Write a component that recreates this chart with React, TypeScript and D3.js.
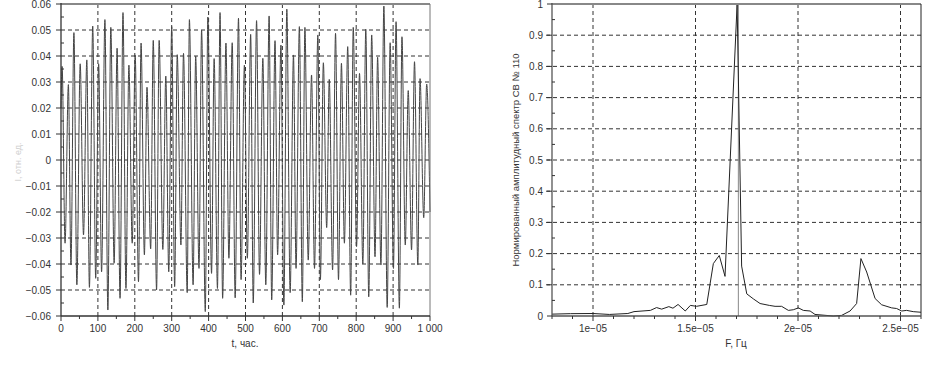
import React from "react";
import * as d3 from "d3";

// left panel: oscillation, peaks and troughs
const peakT = [3, 20, 35, 52, 70, 86, 102, 119, 135, 152, 168, 184, 201, 217, 233, 250, 266, 284, 300, 315,
  332, 348, 365, 381, 398, 415, 431, 447, 464, 481, 497, 514, 530, 547, 564, 580, 596, 612, 630, 646,
  661, 679, 696, 711, 727, 744, 760, 777, 792, 809, 826, 842, 858, 875, 892, 908, 924, 941, 958, 973, 991];
const peakV = [0.036, 0.029, 0.049, 0.037, 0.0385, 0.0515, 0.037, 0.054, 0.051, 0.043,
  0.0567, 0.0365, 0.0404, 0.045, 0.028, 0.046, 0.046, 0.0323, 0.0513, 0.0405,
  0.041, 0.054, 0.04, 0.05, 0.055, 0.039, 0.0567, 0.045, 0.0451, 0.0545,
  0.0365, 0.0483, 0.0536, 0.0391, 0.0554, 0.0459, 0.0442, 0.058, 0.0404, 0.0513,
  0.051, 0.0327, 0.0481, 0.0374, 0.031, 0.0487, 0.0372, 0.0436, 0.051, 0.0333,
  0.0503, 0.0481, 0.0395, 0.0592, 0.0451, 0.0532, 0.0474, 0.0267, 0.0378, 0.0313, 0.0292];
const troughT = [11, 27, 43, 61, 77, 94, 110, 127, 144, 160, 176, 193, 210, 226, 243, 259, 276, 292, 308, 325,
  342, 358, 374, 391, 408, 424, 438, 455, 472, 488, 505, 521, 538, 555, 571, 587, 604, 621, 637, 654,
  670, 687, 703, 720, 736, 752, 768, 785, 801, 818, 834, 851, 867, 884, 901, 917, 933, 950, 967, 983];
const troughV = [-0.032, -0.0404, -0.048, -0.0288, -0.049, -0.0455, -0.043, -0.0577, -0.0397, -0.0532,
  -0.0494, -0.032, -0.0468, -0.0365, -0.0342, -0.05, -0.0344, -0.043, -0.0487, -0.0327,
  -0.051, -0.048, -0.0417, -0.0583, -0.0436, -0.0494, -0.0532, -0.0378, -0.053, -0.046,
  -0.0378, -0.055, -0.044, -0.048, -0.0538, -0.0365, -0.0558, -0.051, -0.0417, -0.0545,
  -0.0385, -0.0417, -0.046, -0.026, -0.0423, -0.046, -0.032, -0.052, -0.0333, -0.04,
  -0.0526, -0.0372, -0.0404, -0.0567, -0.0417, -0.057, -0.0327, -0.0346, -0.0404, -0.0222];
const edgeT = [0, 1000];
const edgeV = [0.02, -0.02];
const timeTicks = [0, 100, 200, 300, 400, 500, 600, 700, 800, 900, 1000];
const timeLabels = ["0", "100", "200", "300", "400", "500", "600", "700", "800", "900", "1 000"];

// right panel: normalized spectrum
const specF = [8.0, 8.9, 10.0, 10.8, 11.7, 12.0, 12.8, 13.1, 13.35, 13.7, 13.9, 14.15, 14.5, 14.75, 15.05,
  15.55, 15.87, 16.16, 16.44, 17.03, 17.25, 17.5, 17.82, 18.15, 18.6, 18.88, 19.2, 19.53, 19.77, 20.02,
  20.26, 20.59, 20.83, 21.72, 22.13, 22.54, 22.86, 23.07, 23.35, 23.76, 24.08, 24.57, 24.81, 25.06,
  25.3, 25.62, 26.0];
const specV = [0.006, 0.0075, 0.008, 0.005, 0.008, 0.014, 0.018, 0.027, 0.022, 0.03, 0.025, 0.037, 0.016, 0.034, 0.031,
  0.037, 0.168, 0.194, 0.127, 1.0, 0.16, 0.071, 0.055, 0.04, 0.034, 0.031, 0.031, 0.018, 0.02, 0.026,
  0.018, 0.016, 0.005, 0.0, 0.002, 0.016, 0.04, 0.184, 0.141, 0.056, 0.036, 0.026, 0.024, 0.016,
  0.018, 0.014, 0.012];
const peakMarkerF = 17.09;
const freqTicks = [10, 15, 20, 25];
const freqLabels = ["1e\u221205", "1.5e\u221205", "2e\u221205", "2.5e\u221205"];

const font = "'Liberation Sans', Arial, sans-serif";
const txt = "#333";
const gridColor = "#333";

const fmtSigned = (v: number) => (v < 0 ? "\u2212" + Math.abs(v).toFixed(2) : v === 0 ? "0" : v.toFixed(2));

export default function App() {
  // left scales
  const xL = d3.scaleLinear().domain([0, 1000]).range([61, 430]);
  const yL = d3.scaleLinear().domain([-0.06, 0.06]).range([316, 4]);
  // right scales
  const xR = d3.scaleLinear().domain([8, 26]).range([552, 921]);
  const yR = d3.scaleLinear().domain([0, 1]).range([316, 4]);

  const pts: [number, number][] = [];
  peakT.forEach((t, i) => pts.push([t, peakV[i]]));
  troughT.forEach((t, i) => pts.push([t, troughV[i]]));
  edgeT.forEach((t, i) => pts.push([t, edgeV[i]]));
  pts.sort((a, b) => a[0] - b[0]);

  const lineL = d3.line<[number, number]>()
    .x((d) => xL(d[0]))
    .y((d) => yL(d[1]))
    .curve(d3.curveMonotoneX);

  const spec = specF.map((f, i) => [f, specV[i]] as [number, number]);
  const lineR = d3.line<[number, number]>()
    .x((d) => xR(d[0]))
    .y((d) => yR(d[1]));

  const yLTicks = d3.range(-6, 7).map((k) => k / 100);
  const yLMinor = d3.range(-11, 12, 2).map((k) => k / 200);
  const xLMinor = d3.range(50, 1000, 100);
  const yRTicks = d3.range(0, 11).map((k) => k / 10);
  const yRMinor = d3.range(1, 20, 2).map((k) => k / 20);
  const xRMinor = d3.range(8, 27).filter((f) => f % 5 !== 0);

  return (
    <svg width={935} height={368} style={{ position: "absolute", left: 0, top: 0, background: "#fff" }}
      fontFamily={font} fontSize={10}>
      {/* ---------- left panel ---------- */}
      <g>
        {timeTicks.slice(1, -1).map((t) => (
          <line key={"gv" + t} x1={xL(t)} x2={xL(t)} y1={4} y2={316} stroke={gridColor} strokeDasharray="4,3" />
        ))}
        {yLTicks.filter((v) => Math.abs(v) < 0.055).map((v) => (
          <line key={"gh" + v} x1={61} x2={430} y1={yL(v)} y2={yL(v)} stroke={gridColor} strokeDasharray="4,3" />
        ))}
        <path d={lineL(pts) || ""} fill="none" stroke="#444" strokeWidth={1} />
        <line x1={61} x2={430} y1={4} y2={4} stroke="#888" strokeWidth={2} />
        <line x1={430} x2={430} y1={4} y2={316} stroke="#777" strokeWidth={1} />
        <line x1={61} x2={61} y1={3} y2={316} stroke="#333" strokeWidth={1.3} />
        <line x1={61} x2={430} y1={316} y2={316} stroke="#333" strokeWidth={1.3} />
        {yLTicks.map((v) => (
          <g key={"yl" + v}>
            <line x1={56} x2={61} y1={yL(v)} y2={yL(v)} stroke="#333" />
            <text x={51} y={yL(v)} dy="0.35em" textAnchor="end" fill={txt}>{fmtSigned(v)}</text>
          </g>
        ))}
        {yLMinor.map((v) => (
          <line key={"ylm" + v} x1={61} x2={64} y1={yL(v)} y2={yL(v)} stroke="#333" />
        ))}
        {timeTicks.map((t, i) => (
          <g key={"xl" + t}>
            <line x1={xL(t)} x2={xL(t)} y1={316} y2={321} stroke="#333" />
            <text x={xL(t)} y={332} textAnchor="middle" fill={txt}>{timeLabels[i]}</text>
          </g>
        ))}
        {xLMinor.map((t) => (
          <line key={"xlm" + t} x1={xL(t)} x2={xL(t)} y1={316} y2={319} stroke="#333" />
        ))}
        <text x={245} y={347} textAnchor="middle" fill={txt}>t, час.</text>
        <text transform="translate(21,162) rotate(-90)" textAnchor="middle" fill="#cfcfcf" fontSize={9}>I, отн. ед.</text>
      </g>

      {/* ---------- right panel ---------- */}
      <g>
        {freqTicks.map((f) => (
          <line key={"rgv" + f} x1={xR(f)} x2={xR(f)} y1={4} y2={316} stroke={gridColor} strokeDasharray="4,3" />
        ))}
        {yRTicks.slice(1, -1).map((v) => (
          <line key={"rgh" + v} x1={546} x2={921} y1={yR(v)} y2={yR(v)} stroke={gridColor} strokeDasharray="4,3" />
        ))}
        <line x1={xR(peakMarkerF)} x2={xR(peakMarkerF)} y1={4} y2={316} stroke="#888" strokeWidth={1} />
        <path d={lineR(spec) || ""} fill="none" stroke="#222" strokeWidth={1} />
        <line x1={552} x2={921} y1={4} y2={4} stroke="#888" strokeWidth={2} />
        <line x1={921} x2={921} y1={4} y2={316} stroke="#222" strokeWidth={1} />
        <line x1={552} x2={552} y1={3} y2={316} stroke="#555" strokeWidth={1.3} />
        <line x1={552} x2={921} y1={316} y2={316} stroke="#555" strokeWidth={1.3} />
        {yRTicks.map((v) => (
          <g key={"yr" + v}>
            <line x1={547} x2={552} y1={yR(v)} y2={yR(v)} stroke="#333" />
            <text x={543} y={yR(v)} dy="0.35em" textAnchor="end" fill={txt}>{v === 0 ? "0" : v === 1 ? "1" : v.toFixed(1)}</text>
          </g>
        ))}
        {yRMinor.map((v) => (
          <line key={"yrm" + v} x1={552} x2={555} y1={yR(v)} y2={yR(v)} stroke="#333" />
        ))}
        {freqTicks.map((f, i) => (
          <g key={"xr" + f}>
            <line x1={xR(f)} x2={xR(f)} y1={316} y2={321} stroke="#333" />
            <text x={xR(f)} y={332} textAnchor="middle" fill={txt}>{freqLabels[i]}</text>
          </g>
        ))}
        {xRMinor.map((f) => (
          <line key={"xrm" + f} x1={xR(f)} x2={xR(f)} y1={316} y2={319} stroke="#333" />
        ))}
        <text x={736} y={347} textAnchor="middle" fill={txt}>F, Гц</text>
        <text transform="translate(519,160) rotate(-90)" textAnchor="middle" fill={txt} fontSize={9.5}>
          Нормированный амплитудный спектр СВ № 110
        </text>
      </g>
    </svg>
  );
}
